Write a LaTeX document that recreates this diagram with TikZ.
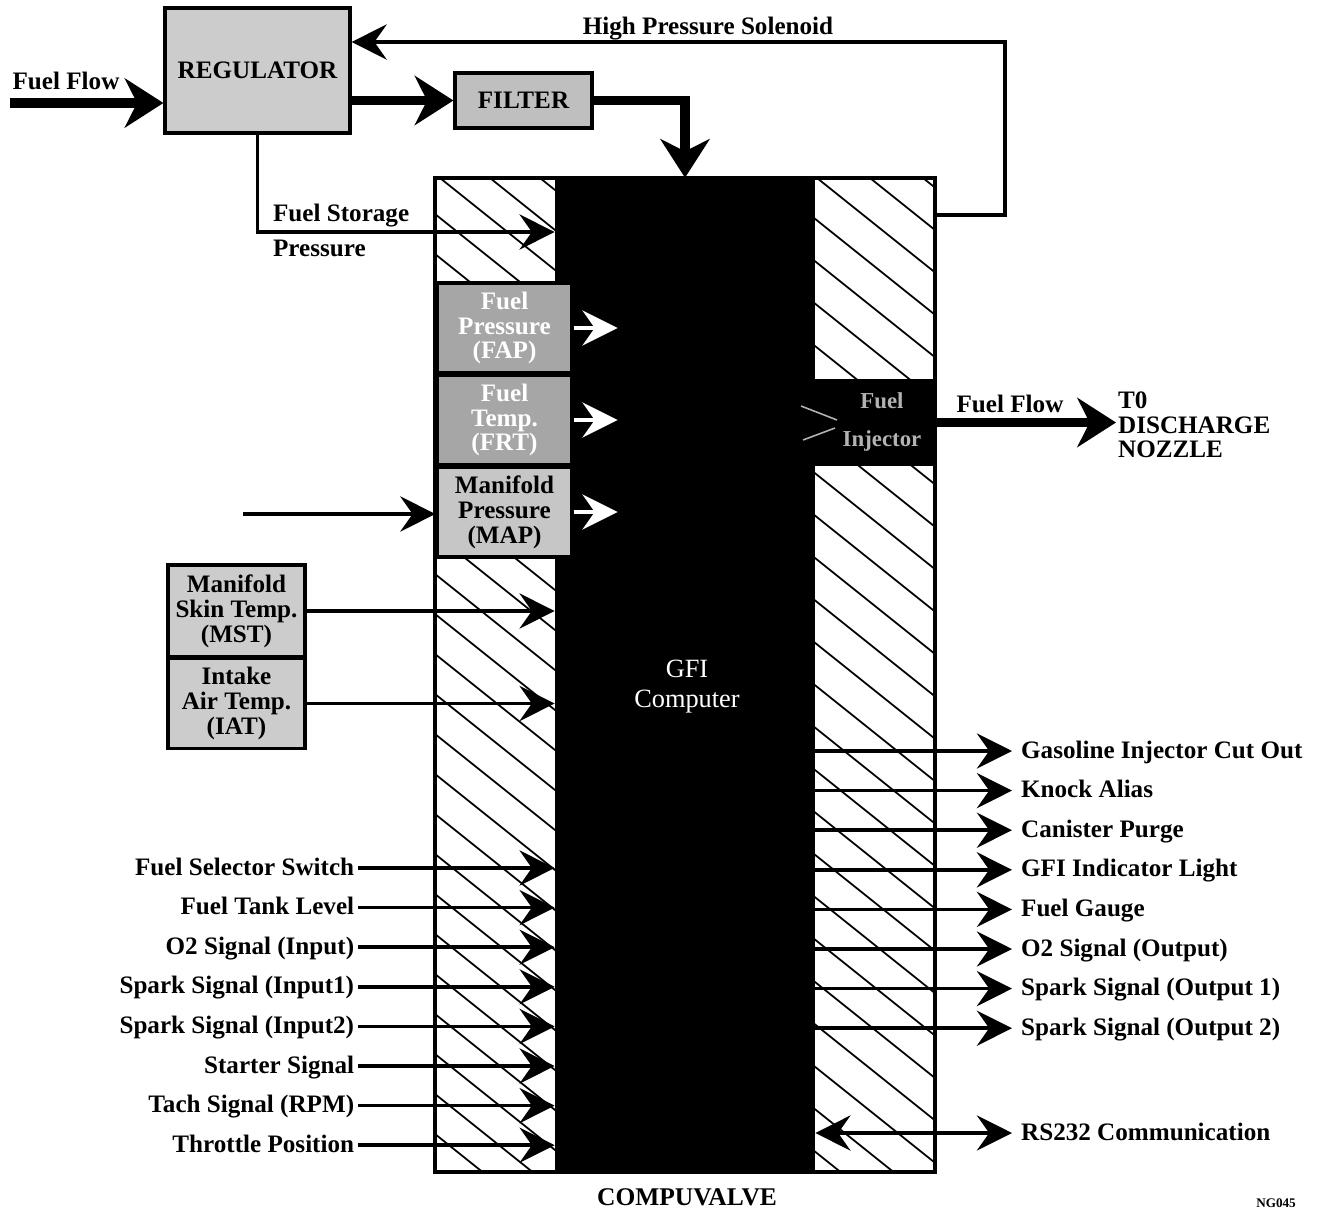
\documentclass[tikz,border=0pt]{standalone}
\usepackage{fontspec}
\setmainfont{Liberation Serif}
\usetikzlibrary{arrows.meta,positioning,calc}

\tikzset{
    lbl/.style={font=\fontsize{14.3}{15}\selectfont\bfseries, inner sep=1pt,
        text height=9.5pt, text depth=1.5pt},
    graybox/.style={draw, line width=1.8pt, fill=gray!40, align=center,
        font=\fontsize{14.3}{14.2}\selectfont\bfseries, inner sep=0pt},
    darkbox/.style={graybox, fill=gray!70, text=white},
    sig/.style={line width=2pt, -{Stealth[length=20pt,width=20pt,inset=7pt]}},
    flow/.style={line width=5.5pt, line join=miter,
        -{Stealth[length=22pt,width=28pt,inset=7pt]}},
    hatch/.style={line width=1pt}
}

\begin{document}
\begin{tikzpicture}[x=0.02cm, y=-0.02cm]
    \useasboundingbox (0,0) rectangle (1318,1213);

    % Hatched side strips of the Compuvalve
    \begin{scope}
        \clip (435,178) rectangle (555,1172);
        \foreach \k in {-27,...,3}
            \draw[hatch] (440+50*\k,178) -- ++(1300,1040);
    \end{scope}
    \begin{scope}
        \clip (815,178) rectangle (935,1172);
        \foreach \k in {-26,...,3}
            \draw[hatch] (817+53*\k,178) -- ++(1300,1040);
    \end{scope}

    % Compuvalve and GFI computer
    \node[fill=black, inner sep=0, minimum width=5.2cm, minimum height=19.88cm] (gfi) at (685,675) {};
    \node[draw, line width=2.4pt, inner sep=0, minimum width=10cm, minimum height=19.88cm] (cv) at (685,675) {};
    \node[text=white, align=center, font=\fontsize{15}{17}\selectfont] (gfilabel) at (687,687) {GFI\\Computer};
    \node[font=\fontsize{14.5}{15}\selectfont\bfseries] (cvlabel) at (687,1197) {COMPUVALVE};
    \node[font=\fontsize{7.5}{8}\selectfont\bfseries] (ngcode) at (1276,1203) {NG045};

    % Regulator and filter
    \node[graybox, minimum width=3.7cm, minimum height=2.5cm] (regulator) at (257.5,70.5) {REGULATOR};
    \node[graybox, fill=gray!50, minimum width=2.74cm, minimum height=1.1cm] (filter) at (523.5,100.5) {FILTER};

    % Sensors inside the Compuvalve
    \node[darkbox, minimum width=2.7cm, minimum height=1.8cm] (fap) at (504.5,328) {Fuel\\Pressure\\(FAP)};
    \node[darkbox, minimum width=2.7cm, minimum height=1.8cm] (frt) at (504.5,420) {Fuel\\Temp.\\(FRT)};
    \node[graybox, fill=gray!45, minimum width=2.7cm, minimum height=1.8cm] (map) at (504.5,512) {Manifold\\Pressure\\(MAP)};

    % Outside temperature sensors
    \node[graybox, minimum width=2.74cm, minimum height=1.84cm] (mst) at (236.5,611) {Manifold\\Skin Temp.\\(MST)};
    \node[graybox, minimum width=2.74cm, minimum height=1.8cm] (iat) at (236.5,703.5) {Intake\\Air Temp.\\(IAT)};

    % Fuel injector
    \node[draw, fill=black, line width=1.2pt, minimum width=2.7cm, minimum height=1.7cm] (inj) at (867.5,422.5) {};
    \node[text=gray!60, align=center, font=\fontsize{13}{22}\selectfont\bfseries] (injlabel) at (882,422) {Fuel\\Injector};
    \draw[gray!60, line width=0.9pt] (801,406) -- (837,420);
    \draw[gray!60, line width=0.9pt] (803,440) -- (835,428);

    % Fuel path
    \coordinate (ffin) at (10,103);
    \node[lbl] (fflabel) at (66,82) {Fuel Flow};
    \draw[flow] (ffin) -- (ffin -| regulator.west);
    \draw[flow] (regulator.east |- filter.west) -- (filter.west);
    \draw[flow] (filter.east) -| (gfi.north);

    \node[lbl, anchor=west, align=left, text height=, text depth=, font=\fontsize{14.3}{20}\selectfont\bfseries] (fslabel) at (271,230.5) {Fuel Storage\\Pressure};
    \coordinate (fsturn) at (257.5,232);
    \draw[sig] (regulator.south) -- (fsturn) -- (fsturn -| gfi.west);

    % High pressure solenoid feedback
    \node[lbl] (hpslabel) at (708,27) {High Pressure Solenoid};
    \coordinate (hpsout) at (935,215);
    \coordinate (hpstop) at (1005,42);
    \draw[sig] (hpsout) -| (hpstop) -- (hpstop -| regulator.east);

    % Sensor arrows
    \foreach \s in {fap,frt,map}
        \draw[sig, white] (\s.east) -- ++(44,0);
    \coordinate (mapin) at (243,514);
    \draw[sig] (mapin) -- (mapin -| map.west);
    \draw[sig] (mst.east) -- (mst.east -| gfi.west);
    \draw[sig] (iat.east) -- (iat.east -| gfi.west);

    % Fuel out to nozzle
    \node[lbl] (fflabeltwo) at (1010,405) {Fuel Flow};
    \node[anchor=west, align=left, inner sep=1pt, font=\fontsize{14.3}{14}\selectfont\bfseries] (nozzle) at (1116,425) {T0\\DISCHARGE\\NOZZLE};
    \draw[flow] (inj.east) -- (inj.east -| nozzle.west);

    % Inputs
    \foreach \t [count=\i from 0] in {Fuel Selector Switch, Fuel Tank Level, O2 Signal (Input),
            Spark Signal (Input1), Spark Signal (Input2), Starter Signal, Tach Signal (RPM),
            Throttle Position} {
        \node[lbl, anchor=east, inner xsep=2pt] (in\i) at (358,868+39.6*\i) {\t};
        \draw[sig] (in\i.east) -- (in\i.east -| gfi.west);
    }

    % Outputs
    \foreach \t [count=\i from 0] in {Gasoline Injector Cut Out, Knock Alias, Canister Purge,
            GFI Indicator Light, Fuel Gauge, O2 Signal (Output), Spark Signal (Output 1),
            Spark Signal (Output 2)} {
        \node[lbl, anchor=west, inner xsep=5pt] (out\i) at (1012,751+39.6*\i) {\t};
        \draw[sig] (gfi.east |- out\i.west) -- (out\i.west);
    }

    \node[lbl, anchor=west, inner xsep=5pt] (rs) at (1012,1133) {RS232 Communication};
    \draw[sig, {Stealth[length=20pt,width=20pt,inset=7pt]}-{Stealth[length=20pt,width=20pt,inset=7pt]}]
        (gfi.east |- rs.west) -- (rs.west);
\end{tikzpicture}
\end{document}
